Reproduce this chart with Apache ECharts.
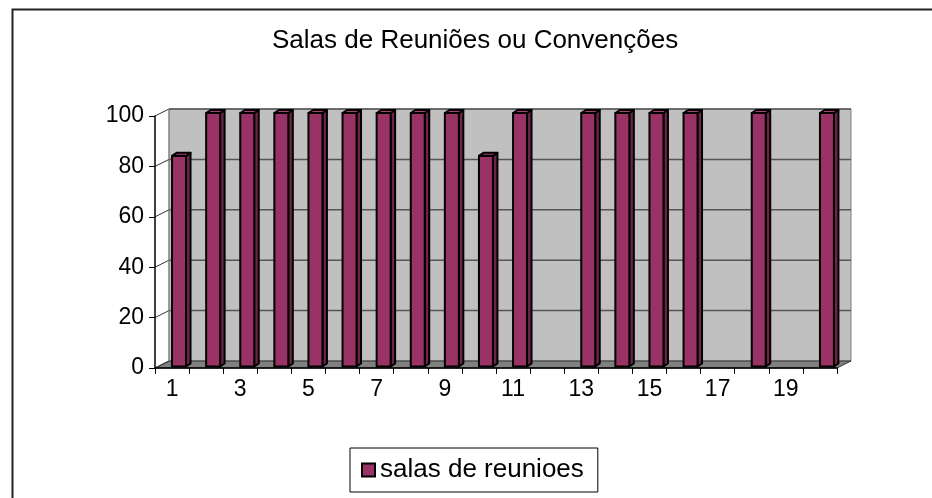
<!DOCTYPE html>
<html>
<head>
<meta charset="utf-8">
<script src="https://cdn.jsdelivr.net/npm/echarts@6/dist/echarts.min.js"></script>
<style>html,body{margin:0;padding:0;background:#fff}#c{width:932px;height:498px}</style>
</head>
<body>
<div id="c"></div>
<script>
var titleText = 'Salas de Reuniões ou Convenções';
var seriesName = 'salas de reunioes';
var categories = ['1','2','3','4','5','6','7','8','9','10','11','12','13','14','15','16','17','18','19','20'];
var values = [83, 100, 100, 100, 100, 100, 100, 100, 100, 83, 100, null, 100, 100, 100, 100, null, 100, null, 100];
var yTicks = [0, 20, 40, 60, 80, 100];

var DX = 14, DY = -7; // depth offset of the back wall
var FONT = 'Liberation Sans, Arial, sans-serif';

var chart = echarts.init(document.getElementById('c'));

function decor(params, api) {
  var n = categories.length;
  var bw = api.size([1, 0])[0];
  var l = api.coord([0, 0])[0] - bw / 2;
  var r = api.coord([n - 1, 0])[0] + bw / 2;
  var y0 = api.coord([0, yTicks[0]])[1];
  var yTop = api.coord([0, yTicks[yTicks.length - 1]])[1];
  var children = [];
  children.push({type: 'rect', shape: {x: l + DX, y: yTop + DY, width: r - l, height: y0 - yTop},
    style: {fill: '#c0c0c0', stroke: '#808080', lineWidth: 1}});
  children.push({type: 'polygon', shape: {points: [[l, y0], [r, y0], [r + DX, y0 + DY], [l + DX, y0 + DY]]},
    style: {fill: '#808080', stroke: '#333', lineWidth: 1}});
  for (var i = 0; i < yTicks.length; i++) {
    var y = api.coord([0, yTicks[i]])[1];
    if (i > 0) {
      children.push({type: 'line', shape: {x1: l + DX, y1: y + DY, x2: r + DX, y2: y + DY},
        style: {stroke: '#555', lineWidth: 1.5}});
    }
    children.push({type: 'line', shape: {x1: l, y1: y, x2: l + DX, y2: y + DY},
      style: {stroke: '#333', lineWidth: 1}});
  }
  children.push({type: 'line', shape: {x1: l + DX, y1: yTop + DY, x2: l + DX, y2: y0 + DY},
    style: {stroke: '#808080', lineWidth: 1}});
  return {type: 'group', children: children};
}

function bar3d(params, api) {
  var v = api.value(1);
  if (v === null || v === undefined || isNaN(v)) return;
  var idx = api.value(0);
  var base = api.coord([idx, 0]);
  var top = api.coord([idx, v]);
  var w = api.size([1, 0])[0] * 0.41;
  var x0 = base[0];
  var yb = base[1] - 1.5, yt = top[1] - 3;
  var dx = 4.5, dy = -3;
  var st = {stroke: '#000', lineWidth: 2, lineJoin: 'round'};
  return {type: 'group', children: [
    {type: 'polygon', shape: {points: [[x0 + w, yt], [x0 + w + dx, yt + dy], [x0 + w + dx, yb + dy], [x0 + w, yb]]},
      style: Object.assign({fill: '#6e2447'}, st)},
    {type: 'rect', shape: {x: x0, y: yt, width: w, height: yb - yt},
      style: Object.assign({fill: '#993366'}, st)},
    {type: 'polygon', shape: {points: [[x0, yt], [x0 + dx, yt + dy], [x0 + w + dx, yt + dy], [x0 + w, yt]]},
      style: Object.assign({fill: '#a8407a'}, st)}
  ]};
}

chart.setOption({
  backgroundColor: '#fff',
  animation: false,
  title: {text: titleText, left: 267, top: 23,
    textStyle: {fontFamily: FONT, fontSize: 26, fontWeight: 'normal', color: '#000'}},
  legend: {data: [seriesName], left: 350, bottom: 6, orient: 'horizontal',
    borderColor: '#000', borderWidth: 1, padding: [9, 14, 9, 11],
    itemWidth: 13, itemHeight: 13, itemGap: 6, icon: 'rect',
    textStyle: {fontFamily: FONT, fontSize: 26, color: '#000', padding: [0, 0, 0, 0]}},
  grid: {left: 155, right: 95, top: 116, bottom: 130, containLabel: false},
  xAxis: {type: 'category', data: categories, z: 10,
    axisLine: {show: true, lineStyle: {color: '#000', width: 1.5}},
    axisTick: {show: true, interval: 0, length: 6, lineStyle: {color: '#000'}},
    axisLabel: {interval: 1, fontFamily: FONT, fontSize: 23, color: '#000', margin: 10},
    splitLine: {show: false}},
  yAxis: {type: 'value', min: 0, max: 100, interval: 20, z: 10,
    axisLine: {show: true, lineStyle: {color: '#000', width: 1.5}},
    axisTick: {show: true, length: 6, lineStyle: {color: '#000'}},
    axisLabel: {fontFamily: FONT, fontSize: 23, color: '#000', margin: 11},
    splitLine: {show: false}},
  graphic: [{type: 'rect', left: 10, top: 7, shape: {width: 940, height: 510},
    style: {fill: 'none', stroke: '#222', lineWidth: 2}, z: 100, silent: true}],
  series: [
    {type: 'custom', name: 'decor', renderItem: decor, data: [[0, 0]], z: 1, silent: true,
      encode: {x: 0, y: 1}},
    {type: 'custom', name: seriesName, renderItem: bar3d, z: 3,
      itemStyle: {color: '#993366', borderColor: '#000', borderWidth: 2},
      data: values.map(function (v, i) { return [i, v]; }), encode: {x: 0, y: 1}}
  ]
});
</script>
</body>
</html>
